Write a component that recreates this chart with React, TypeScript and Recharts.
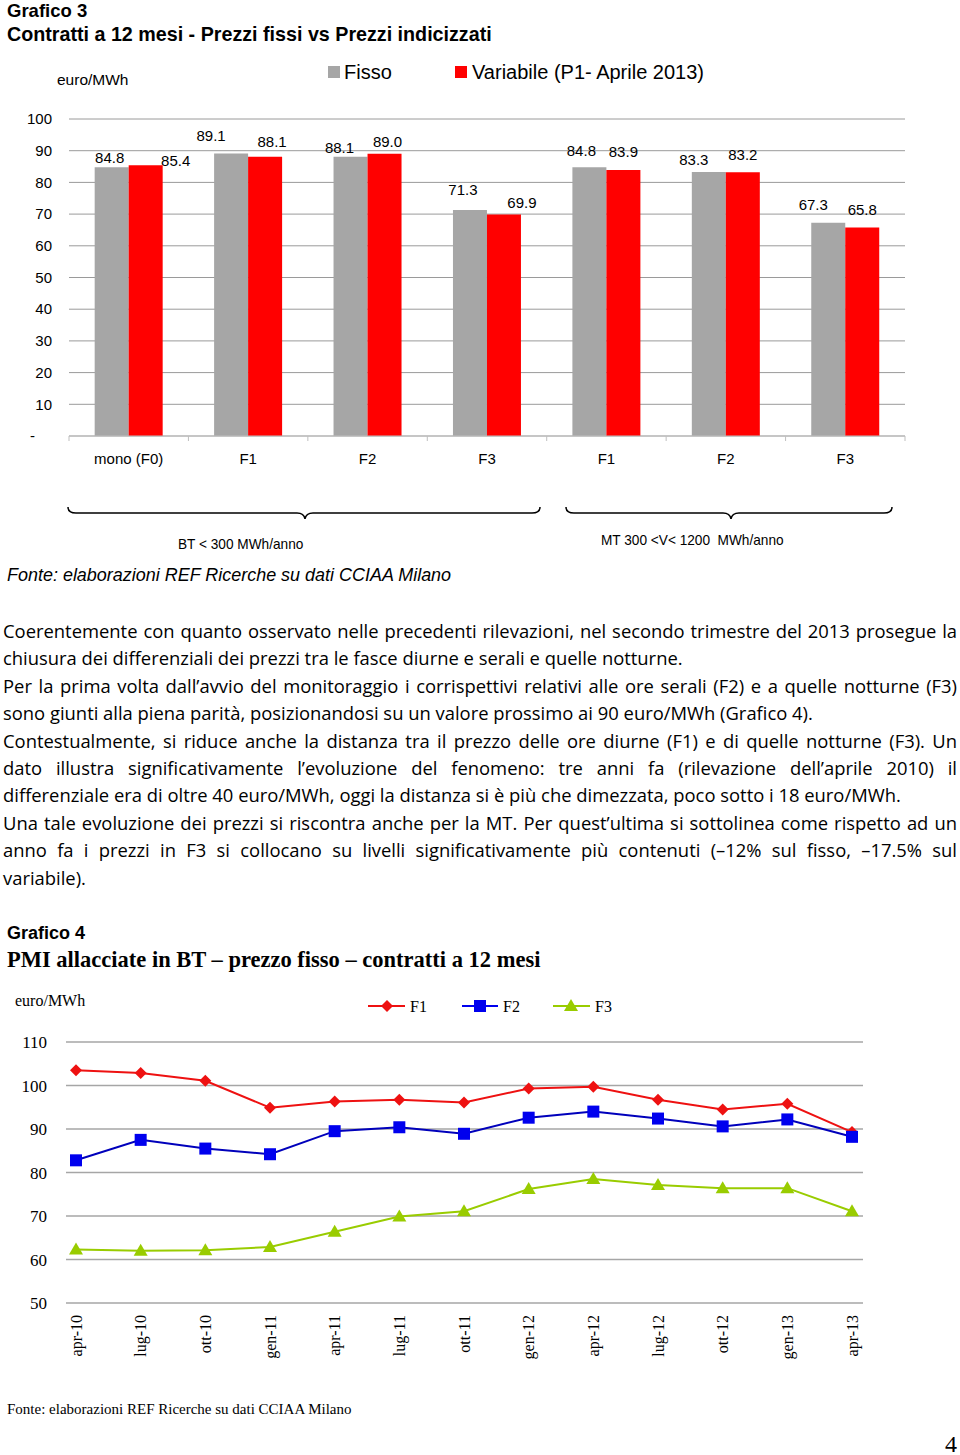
// Grafico 3 (barre fisso/variabile) e Grafico 4 (linee F1/F2/F3), con testo della pagina.
import React from "react";
import { Bar, BarChart, CartesianGrid, LabelList, Line, LineChart, XAxis, YAxis } from "recharts";

const fasce = ["mono (F0)", "F1", "F2", "F3", "F1", "F2", "F3"];
const fisso = [84.8, 89.1, 88.1, 71.3, 84.8, 83.3, 67.3];
const variabile = [85.4, 88.1, 89.0, 69.9, 83.9, 83.2, 65.8];
const barTicks = [0, 10, 20, 30, 40, 50, 60, 70, 80, 90, 100];

const mesi = ["apr-10", "lug-10", "ott-10", "gen-11", "apr-11", "lug-11", "ott-11", "gen-12", "apr-12", "lug-12", "ott-12", "gen-13", "apr-13"];
const f1 = [103.5, 102.9, 101.1, 94.9, 96.3, 96.7, 96.1, 99.3, 99.7, 96.7, 94.5, 95.8, 89.3];
const f2 = [82.8, 87.5, 85.5, 84.2, 89.5, 90.4, 88.9, 92.6, 94.0, 92.4, 90.6, 92.2, 88.2];
const f3 = [62.3, 62.0, 62.1, 62.9, 66.4, 69.9, 71.1, 76.2, 78.5, 77.1, 76.4, 76.4, 71.1];
const lineTicks = [50, 60, 70, 80, 90, 100, 110];

// spostamenti manuali delle etichette (come nel grafico Excel): [dx, distanza sopra la barra]
const nudgeFisso = [[-2, 9], [-20, 18], [-11, 9], [-7, 20], [-8, 16], [-15, 12], [-15, 18]];
const nudgeVar = [[30, 5], [7, 15], [3, 12], [18, 12], [0, 18], [0, 18], [0, 18]];

const paragraphs: { text: string; justify: boolean }[] = [
  { text: "Coerentemente con quanto osservato nelle precedenti rilevazioni, nel secondo trimestre del 2013 prosegue la", justify: true },
  { text: "chiusura dei differenziali dei prezzi tra le fasce diurne e serali e quelle notturne.", justify: false },
  { text: "Per la prima volta dall’avvio del monitoraggio i corrispettivi relativi alle ore serali (F2) e a quelle notturne (F3)", justify: true },
  { text: "sono giunti alla piena parità, posizionandosi su un valore prossimo ai 90 euro/MWh (Grafico 4).", justify: false },
  { text: "Contestualmente, si riduce anche la distanza tra il prezzo delle ore diurne (F1) e di quelle notturne (F3). Un", justify: true },
  { text: "dato illustra significativamente l’evoluzione del fenomeno: tre anni fa (rilevazione dell’aprile 2010) il", justify: true },
  { text: "differenziale era di oltre 40 euro/MWh, oggi la distanza si è più che dimezzata, poco sotto i 18 euro/MWh.", justify: false },
  { text: "Una tale evoluzione dei prezzi si riscontra anche per la MT. Per quest’ultima si sottolinea come rispetto ad un", justify: true },
  { text: "anno fa i prezzi in F3 si collocano su livelli significativamente più contenuti (–12% sul fisso, –17.5% sul", justify: true },
  { text: "variabile).", justify: false },
];

const SANS = "'Liberation Sans', Arial, sans-serif";
const SERIF = "'Liberation Serif', 'Times New Roman', serif";

const barData = fasce.map((name, i) => ({ name, fisso: fisso[i], variabile: variabile[i] }));
const lineData = mesi.map((mese, i) => ({ mese, f1: f1[i], f2: f2[i], f3: f3[i] }));

function Txt({ x, cy, size, lh, children, style }: any) {
  const h = lh ?? Math.round(size * 1.3);
  return (
    <div style={{ position: "absolute", left: x, top: cy - h / 2, fontSize: size, lineHeight: `${h}px`, whiteSpace: "pre", transformOrigin: "left center", ...style }}>
      {children}
    </div>
  );
}

function makeLabel(nudges: number[][]) {
  return (props: any) => {
    const { x, y, width, value, index } = props;
    const [dx, up] = nudges[index] ?? [0, 10];
    return (
      <text x={x + width / 2 + dx} y={y - up} textAnchor="middle" dy="0.35em" fontSize={15} fontFamily={SANS} fill="#000">
        {Number(value).toFixed(1)}
      </text>
    );
  };
}

function BarXTick(props: any) {
  const { x, y, payload, index } = props;
  const half = payload.offset || 59.7;
  return (
    <g>
      <line x1={x - half} x2={x - half} y1={y} y2={y + 5} stroke="#bfbfbf" />
      {index === fasce.length - 1 && <line x1={x + half} x2={x + half} y1={y} y2={y + 5} stroke="#bfbfbf" />}
      <text x={x} y={y + 23} textAnchor="middle" dy="0.35em" fontSize={15} fontFamily={SANS} fill="#000">
        {payload.value}
      </text>
    </g>
  );
}

function BarYTick(props: any) {
  const { x, y, payload } = props;
  if (payload.value === 0) {
    return (
      <text x={30} y={y} dy="0.35em" fontSize={15} fontFamily={SANS} fill="#000">
        -
      </text>
    );
  }
  return (
    <text x={x - 17} y={y} textAnchor="end" dy="0.35em" fontSize={15} fontFamily={SANS} fill="#000">
      {payload.value}
    </text>
  );
}

function MonthTick(props: any) {
  const { x, y, payload } = props;
  return (
    <text x={x} y={y} transform={`rotate(-90 ${x} ${y})`} textAnchor="end" dy="0.35em" fontSize={16} fontFamily={SERIF} fill="#000">
      {payload.value}
    </text>
  );
}

function Diamond({ cx, cy, fill }: any) {
  return <path d={`M${cx} ${cy - 6}L${cx + 6} ${cy}L${cx} ${cy + 6}L${cx - 6} ${cy}Z`} fill={fill} />;
}
function Square({ cx, cy, fill }: any) {
  return <rect x={cx - 6} y={cy - 6} width={12} height={12} fill={fill} />;
}
function Triangle({ cx, cy, fill }: any) {
  return <path d={`M${cx} ${cy - 7}L${cx + 7} ${cy + 5}L${cx - 7} ${cy + 5}Z`} fill={fill} />;
}

const RED = "#ee1111";
const BLUE = "#0000ee";
const GREEN = "#99cc00";

export default function App() {
  return (
    <div style={{ position: "absolute", left: 0, top: 0, width: 960, height: 1455, background: "#fff", color: "#000", overflow: "hidden", fontFamily: SANS }}>
      {/* Grafico 3 */}
      <Txt x={7} cy={11} size={18.5} style={{ fontWeight: 700 }}>Grafico 3</Txt>
      <Txt x={7} cy={34} size={19.7} style={{ fontWeight: 700 }}>Contratti a 12 mesi - Prezzi fissi vs Prezzi indicizzati</Txt>
      <Txt x={57} cy={80} size={15.5}>euro/MWh</Txt>
      <div style={{ position: "absolute", left: 328, top: 66, width: 12, height: 12, background: "#a6a6a6" }} />
      <Txt x={344} cy={72} size={20}>Fisso</Txt>
      <div style={{ position: "absolute", left: 455, top: 66, width: 12, height: 12, background: "#ff0000" }} />
      <Txt x={472} cy={72} size={20}>Variabile (P1- Aprile 2013)</Txt>

      <div style={{ position: "absolute", left: 0, top: 0 }}>
        <BarChart width={960} height={480} data={barData} margin={{ top: 119, right: 55, bottom: 4, left: 9 }} barCategoryGap="21.5%" barGap={0}>
          <CartesianGrid vertical={false} stroke="#9a9a9a" />
          <XAxis dataKey="name" height={40} axisLine={{ stroke: "#bfbfbf" }} tickLine={false} tickSize={0} tickMargin={0} tick={<BarXTick />} interval={0} />
          <YAxis width={60} domain={[0, 100]} ticks={barTicks} axisLine={false} tickLine={false} tickSize={0} tickMargin={0} tick={<BarYTick />} />
          <Bar dataKey="fisso" fill="#a6a6a6" isAnimationActive={false}>
            <LabelList dataKey="fisso" content={makeLabel(nudgeFisso)} />
          </Bar>
          <Bar dataKey="variabile" fill="#ff0000" isAnimationActive={false}>
            <LabelList dataKey="variabile" content={makeLabel(nudgeVar)} />
          </Bar>
        </BarChart>
      </div>

      <svg style={{ position: "absolute", left: 0, top: 0 }} width={960} height={560}>
        <path d="M68 507 Q68 513 76 513 L297 513 Q304 513 305 519 Q306 513 313 513 L532 513 Q540 513 540 507" fill="none" stroke="#000" strokeWidth={1.5} />
        <path d="M566 507 Q566 513 574 513 L723 513 Q730 513 731 519 Q732 513 739 513 L884 513 Q892 513 892 507" fill="none" stroke="#000" strokeWidth={1.5} />
      </svg>
      <Txt x={178} cy={544} size={15} style={{ transform: "scaleX(0.91)" }}>BT &lt; 300 MWh/anno</Txt>
      <Txt x={601} cy={540} size={15} style={{ transform: "scaleX(0.91)" }}>{"MT 300 <V< 1200  MWh/anno"}</Txt>
      <Txt x={7} cy={574} size={19} style={{ fontStyle: "italic", transform: "scaleX(0.945)" }}>Fonte: elaborazioni REF Ricerche su dati CCIAA Milano</Txt>

      {/* testo */}
      <div style={{ position: "absolute", left: 3, top: 617, width: 954, fontFamily: "'Open Sans', 'DejaVu Sans', sans-serif", fontSize: 18.4, lineHeight: "27.4px" }}>
        {paragraphs.map((p, i) => (
          <div key={i} style={{ textAlign: p.justify ? "justify" : "left", textAlignLast: p.justify ? "justify" : "left" }}>
            {p.text}
          </div>
        ))}
      </div>

      {/* Grafico 4 */}
      <Txt x={7} cy={933} size={18} style={{ fontWeight: 700 }}>Grafico 4</Txt>
      <Txt x={7} cy={959} size={22.5} style={{ fontWeight: 700, fontFamily: SERIF }}>PMI allacciate in BT – prezzo fisso – contratti a 12 mesi</Txt>
      <Txt x={15} cy={1000} size={16} style={{ fontFamily: SERIF }}>euro/MWh</Txt>

      <svg style={{ position: "absolute", left: 0, top: 990 }} width={960} height={32}>
        <line x1={368} x2={405} y1={16} y2={16} stroke={RED} strokeWidth={2} />
        <Diamond cx={387} cy={16} fill={RED} />
        <line x1={462} x2={498} y1={16} y2={16} stroke={BLUE} strokeWidth={2} />
        <Square cx={480} cy={16} fill={BLUE} />
        <line x1={553} x2={590} y1={16} y2={16} stroke={GREEN} strokeWidth={2} />
        <Triangle cx={571} cy={16} fill={GREEN} />
      </svg>
      <Txt x={410} cy={1006} size={16} style={{ fontFamily: SERIF }}>F1</Txt>
      <Txt x={503} cy={1006} size={16} style={{ fontFamily: SERIF }}>F2</Txt>
      <Txt x={595} cy={1006} size={16} style={{ fontFamily: SERIF }}>F3</Txt>

      <div style={{ position: "absolute", left: 0, top: 1020 }}>
        <LineChart width={960} height={348} data={lineData} margin={{ top: 22, right: 97, bottom: 0, left: 6 }}>
          <CartesianGrid vertical={false} stroke="#a6a6a6" strokeWidth={1.5} />
          <XAxis dataKey="mese" height={65} padding={{ left: 10, right: 11 }} axisLine={false} tickLine={false} tickSize={0} tickMargin={12} tick={<MonthTick />} interval={0} />
          <YAxis width={60} domain={[50, 110]} ticks={lineTicks} axisLine={false} tickLine={false} tickSize={0} tickMargin={19} tick={{ fill: "#000", fontSize: 17, fontFamily: SERIF }} />
          <Line dataKey="f1" stroke={RED} strokeWidth={2} isAnimationActive={false} dot={(p: any) => <Diamond key={`f1-${p.index}`} cx={p.cx} cy={p.cy} fill={RED} />} />
          <Line dataKey="f2" stroke="#0000bb" strokeWidth={2} isAnimationActive={false} dot={(p: any) => <Square key={`f2-${p.index}`} cx={p.cx} cy={p.cy} fill={BLUE} />} />
          <Line dataKey="f3" stroke={GREEN} strokeWidth={2} isAnimationActive={false} dot={(p: any) => <Triangle key={`f3-${p.index}`} cx={p.cx} cy={p.cy} fill={GREEN} />} />
        </LineChart>
      </div>

      <Txt x={7} cy={1409} size={15} style={{ fontFamily: SERIF }}>Fonte: elaborazioni REF Ricerche su dati CCIAA Milano</Txt>
      <Txt x={945} cy={1444} size={24} style={{ fontFamily: SERIF }}>4</Txt>
    </div>
  );
}
